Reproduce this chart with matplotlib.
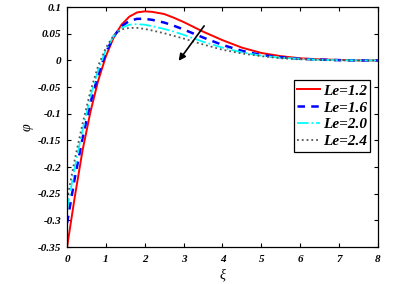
import numpy as np
import matplotlib.pyplot as plt

xi = [0, 0.2, 0.4, 0.6, 0.8, 1.0, 1.2, 1.4, 1.6, 1.8, 2.0, 2.2, 2.5, 2.75, 3.0,
      3.5, 4.0, 4.5, 5.0, 5.5, 6.0, 6.5, 7.0, 7.5, 8.0]

phi_12 = [-0.35, -0.255, -0.168, -0.097, -0.038, 0.008, 0.043, 0.067, 0.082, 0.090,
          0.092, 0.091, 0.087, 0.080, 0.072, 0.054, 0.038, 0.024, 0.014, 0.008,
          0.004, 0.002, 0.001, 0.0, 0.0]
phi_16 = [-0.305, -0.22, -0.145, -0.08, -0.027, 0.015, 0.045, 0.064, 0.074, 0.078,
          0.078, 0.076, 0.071, 0.065, 0.058, 0.043, 0.029, 0.018, 0.010, 0.006,
          0.003, 0.0015, 0.0005, 0.0, 0.0]
phi_20 = [-0.28, -0.20, -0.13, -0.068, -0.018, 0.02, 0.046, 0.061, 0.067, 0.068,
          0.067, 0.064, 0.059, 0.054, 0.048, 0.035, 0.024, 0.015, 0.009, 0.005,
          0.003, 0.001, 0.0005, 0.0, 0.0]
phi_24 = [-0.26, -0.185, -0.118, -0.058, -0.010, 0.024, 0.047, 0.058, 0.061, 0.061,
          0.059, 0.056, 0.051, 0.046, 0.041, 0.030, 0.020, 0.013, 0.008, 0.004,
          0.002, 0.001, 0.0, 0.0, 0.0]

labels = ['Le=1.2', 'Le=1.6', 'Le=2.0', 'Le=2.4']

xticks = [0, 1, 2, 3, 4, 5, 6, 7, 8]
yticks = [-0.35, -0.3, -0.25, -0.2, -0.15, -0.1, -0.05, 0, 0.05, 0.1]
ytick_labels = ['-0.35', '-0.3', '-0.25', '-0.2', '-0.15', '-0.1', '-0.05', '0', '0.05', '0.1']

plt.rcParams['font.family'] = ['Liberation Serif', 'DejaVu Serif']

fig = plt.figure(figsize=(4.09, 2.84), dpi=100)
ax = fig.add_axes([0.164, 0.130, 0.760, 0.845])

ax.plot(xi, phi_12, color='red', lw=1.4, ls='-', label=labels[0])
ax.plot(xi, phi_16, color='blue', lw=1.8, ls=(0, (3, 2.5)), label=labels[1])
ax.plot(xi, phi_20, color='cyan', lw=1.3, ls='-.', label=labels[2])
ax.plot(xi, phi_24, color='#555555', lw=1.3, ls=':', label=labels[3])

ax.annotate('', xy=(2.83, -0.005), xytext=(3.57, 0.069),
            arrowprops=dict(arrowstyle='-|>', color='black', lw=1.2, mutation_scale=10))

ax.set_xlim(0, 8)
ax.set_ylim(-0.35, 0.1)
ax.set_xticks(xticks)
ax.set_xticklabels([str(t) for t in xticks])
ax.set_yticks(yticks)
ax.set_yticklabels(ytick_labels)
ax.tick_params(direction='in', top=True, right=True, length=3, width=0.8, labelsize=8)
ax.tick_params(axis='x', pad=6)
ax.tick_params(axis='y', pad=4)
for lab in ax.get_xticklabels() + ax.get_yticklabels():
    lab.set_fontstyle('italic')
    lab.set_fontweight('bold')
for s in ax.spines.values():
    s.set_linewidth(0.9)

ax.set_xlabel('ξ', fontsize=10, fontstyle='italic', labelpad=3)
ax.set_ylabel('φ', fontsize=10, fontstyle='italic', labelpad=3)

leg = ax.legend(loc='upper right', bbox_to_anchor=(0.976, 0.695), fancybox=False,
                edgecolor='black', framealpha=1, handlelength=1.5, handletextpad=0.15,
                borderpad=0.25, borderaxespad=0, labelspacing=0.2,
                prop={'family': 'Liberation Serif', 'style': 'italic', 'weight': 'bold', 'size': 11})
leg.get_frame().set_linewidth(0.9)

fig.savefig('out.png', dpi=100)
